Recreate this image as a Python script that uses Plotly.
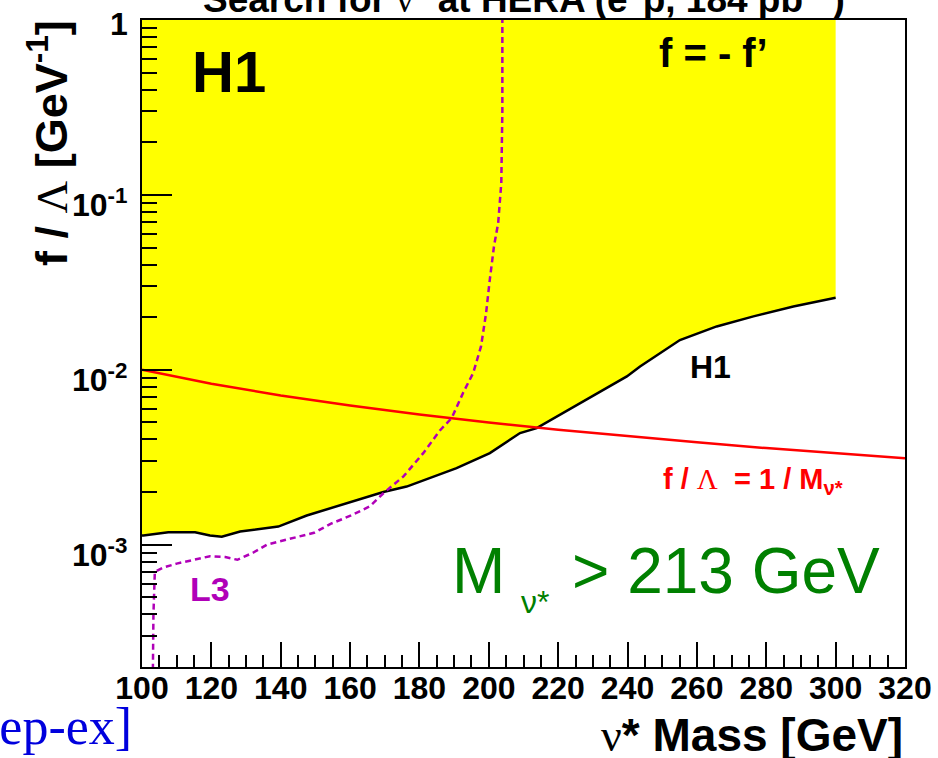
import math
import plotly.graph_objects as go

# ---------------- data ----------------
h1_mass = [100, 100.4, 107.6, 115.3, 119.6, 123, 128.3, 139.3, 147.5, 159, 169.6, 176.3,
           190.7, 200.3, 203.2, 209, 213.8, 228.2, 239.8, 243.6, 255.1, 265.7, 276.3, 287.8, 299.8, 300]
h1_limit = [1.13e-3, 1.13e-3, 1.18e-3, 1.18e-3, 1.13e-3, 1.11e-3, 1.19e-3, 1.27e-3, 1.47e-3, 1.73e-3,
            2.0e-3, 2.15e-3, 2.74e-3, 3.34e-3, 3.65e-3, 4.35e-3, 4.64e-3, 6.74e-3, 9.17e-3, 1.045e-2,
            1.48e-2, 1.77e-2, 2.02e-2, 2.30e-2, 2.57e-2, 2.58e-2]

l3_mass = [103.0, 103.1, 103.3, 103.7, 106.1, 110, 114.8, 119.6, 124, 127.5, 132, 136, 141.7,
           149.6, 154.5, 160.3, 165.7, 169.6, 175.4, 181.1, 185.9, 189.3, 192.6, 195.5, 197.75,
           199.2, 200.3, 201.5, 202.7, 203.6, 203.9, 203.9]
l3_limit = [1.0e-4, 2.0e-4, 4.0e-4, 7.0e-4, 7.4e-4, 7.8e-4, 8.2e-4, 8.6e-4, 8.5e-4, 8.2e-4, 9.0e-4,
            1.0e-3, 1.07e-3, 1.17e-3, 1.32e-3, 1.47e-3, 1.66e-3, 1.97e-3, 2.46e-3, 3.34e-3, 4.5e-3,
            5.3e-3, 7.4e-3, 9.6e-3, 1.36e-2, 2.1e-2, 3.3e-2, 5.1e-2, 6.9e-2, 0.117, 0.3, 1.0]

red_mass = [100, 120, 140, 160, 180, 200, 220, 240, 260, 280, 300, 320]
red_coupling = [0.0100, 0.00833, 0.00714, 0.00625, 0.00556, 0.00500, 0.00455, 0.00417,
                0.00385, 0.00357, 0.00333, 0.003125]

x_ticks = [100, 120, 140, 160, 180, 200, 220, 240, 260, 280, 300, 320]
y_ticks = [1e-3, 1e-2, 1e-1, 1]
y_tick_labels = ["10<sup>-3</sup>", "10<sup>-2</sup>", "10<sup>-1</sup>", "1"]
y_minor = [m * 10 ** e for e in (-4, -3, -2, -1) for m in range(2, 10) if m * 10 ** e >= 2e-4]

# ---------------- figure ----------------
FONT = "Liberation Sans, Arial, Helvetica, sans-serif"
SERIF = "Liberation Serif, Times New Roman, serif"
L, R, T, B, W, H = 142, 33, 20, 91, 938, 758
PW, PH = W - L - R, H - T - B


def px(xp, yp):
    return (xp - L) / PW, 1 - (yp - T) / PH


fig = go.Figure()

# excluded region (yellow)
fig.add_trace(go.Scatter(
    x=h1_mass + [h1_mass[-1], h1_mass[0]],
    y=h1_limit + [1, 1],
    fill="toself", fillcolor="#ffff00", mode="lines",
    line=dict(width=0), hoverinfo="skip", showlegend=False))

fig.add_trace(go.Scatter(x=h1_mass, y=h1_limit, mode="lines",
                         line=dict(color="black", width=2.5), showlegend=False))
fig.add_trace(go.Scatter(x=red_mass, y=red_coupling, mode="lines",
                         line=dict(color="#ff0000", width=2.5), showlegend=False))
fig.add_trace(go.Scatter(x=l3_mass, y=l3_limit, mode="lines",
                         line=dict(color="#b000b8", width=2.5, dash="6px,4px"), showlegend=False))

fig.update_xaxes(range=[100, 320], tickvals=x_ticks, ticks="inside", ticklen=25, tickwidth=2,
                 tickcolor="black", showline=True, linecolor="black", linewidth=2, mirror=True,
                 showgrid=False, zeroline=False, ticklabelstandoff=-8,
                 tickfont=dict(family=FONT, size=32, color="black", weight="bold"),
                 minor=dict(ticks="inside", ticklen=12, tickwidth=2, tickcolor="black",
                            dtick=5, showgrid=False))
fig.update_yaxes(type="log", range=[-3.699, 0], tickvals=y_ticks, showticklabels=False,
                 ticks="inside", ticklen=30, tickwidth=2, tickcolor="black",
                 showline=True, linecolor="black", linewidth=2, mirror=True,
                 showgrid=False, zeroline=False,
                 minor=dict(ticks="inside", ticklen=15, tickwidth=2, tickcolor="black",
                            tickvals=y_minor, showgrid=False))

ann = []

# y tick labels (placed slightly below their ticks, as in the original)
for v, lab in zip(y_ticks, y_tick_labels):
    ann.append(dict(text="<b>%s</b>" % lab, x=0, xref="paper", y=math.log10(v), yref="y",
                    xanchor="right", yanchor="middle", xshift=-12, yshift=-8 if v < 1 else -4,
                    showarrow=False, font=dict(family=FONT, size=32, color="black")))


def add(text, xp, yp, size, color="black", xanchor="center", yanchor="middle", family=FONT,
        angle=0):
    x, y = px(xp, yp)
    ann.append(dict(text=text, x=x, y=y, xref="paper", yref="paper", showarrow=False,
                    xanchor=xanchor, yanchor=yanchor, textangle=angle,
                    font=dict(family=family, size=size, color=color)))


sym = "<span style='font-family:Liberation Serif;font-weight:normal'>%s</span>"

add("<b>Search for " + sym % "ν" + "* at HERA (e<sup>−</sup>p, 184 pb<sup>−1</sup>)</b>", 524, -3, 37)
add("<b>H1</b>", 229, 72, 58)
add("<b>f = - f’</b>", 713, 53, 40)
add("<b>H1</b>", 710, 367, 32)
add("<b>f / </b>" + sym % "Λ" + "<b>  = 1 / M</b><sub><b>ν*</b></sub>", 753, 481, 29, color="#ff0000")
add("<b>L3</b>", 210, 589, 34, color="#b000b8")
add("M", 450, 571, 64, color="#008000", xanchor="left")
add("ν*", 519, 602, 32, color="#008000", xanchor="left")
add("> 213 GeV", 570, 571, 64, color="#008000", xanchor="left")
add(sym % "ν" + "<b>* Mass [GeV]</b>", 905, 735, 46, xanchor="right")
add("<b>f / </b>" + sym % "Λ" + "<b> [GeV<sup>-1</sup>]</b>", 48, 18, 45, yanchor="top", angle=-90)
add("[hep-ex]", 134, 726, 52, color="#0000dd", xanchor="right", family=SERIF)

fig.update_layout(width=W, height=H, margin=dict(l=L, r=R, t=T, b=B, autoexpand=False),
                  paper_bgcolor="white", plot_bgcolor="white", annotations=ann,
                  showlegend=False)

fig.write_html("out.html", config={"displayModeBar": False},
               post_script="document.body.style.margin='0px';")
